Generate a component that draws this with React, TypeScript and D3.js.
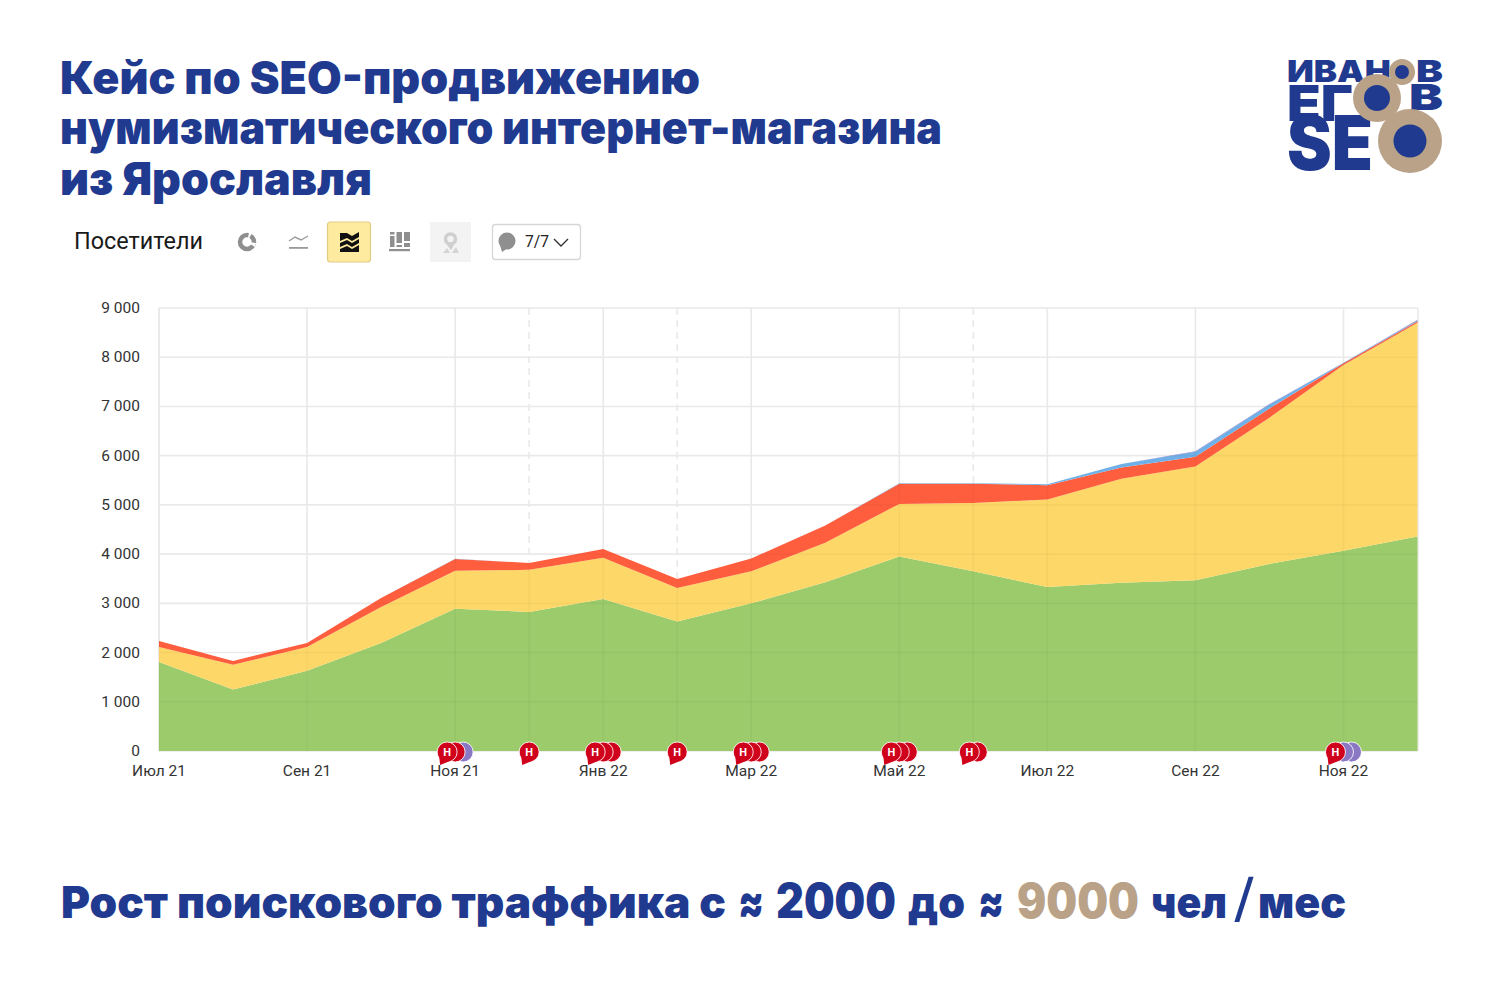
import React from "react";
import * as d3 from "d3";

const months = ["Июл 21","Авг 21","Сен 21","Окт 21","Ноя 21","Дек 21","Янв 22","Фев 22","Мар 22","Апр 22","Май 22","Июн 22","Июл 22","Авг 22","Сен 22","Окт 22","Ноя 22","Дек 22"];
const seriesSearch = [1810,1250,1630,2195,2890,2825,3090,2630,3000,3430,3950,3650,3330,3420,3470,3800,4070,4360];
const seriesDirect = [305,500,485,730,770,855,835,680,650,800,1070,1390,1780,2110,2310,2970,3770,4340];
const seriesLinks = [120,80,80,185,240,140,180,185,260,350,410,390,290,230,200,190,40,30];
const seriesSocial = [0,0,0,0,5,0,0,0,0,0,10,10,20,70,100,80,10,20];
const seriesOther = [0,0,0,0,0,0,0,0,0,0,0,0,0,0,10,10,0,10];
const seriesKeys = ["search","direct","links","social","other"];
const seriesColors = ["#9bcb6b","#fdd868","#ff5e3e","#6fb0e8","#8a78c4"];
const yTicks = [0,1000,2000,3000,4000,5000,6000,7000,8000,9000];
const solidMonths = [0,2,4,6,8,10,12,14,16];
const dashedMonths = [5,7,11];
const flagGroups: [number, string[]][] = [
  [4,["#d0021b","#d0021b","#8a78c4"]],
  [5,["#d0021b"]],
  [6,["#d0021b","#d0021b","#d0021b"]],
  [7,["#d0021b"]],
  [8,["#d0021b","#d0021b","#d0021b"]],
  [10,["#d0021b","#d0021b","#d0021b"]],
  [11,["#d0021b","#d0021b"]],
  [16,["#d0021b","#8a78c4","#8a78c4"]],
];
const titleLines = ["Кейс по SEO-продвижению","нумизматического интернет-магазина","из Ярославля"];
const titleWidths = [640, 882, 312];
const footerParts: [string, number, number, number, number, boolean][] = [
  ["Рост поискового траффика с", 61, 665, 44, 918, false],
  ["≈", 738, 26, 50, 920, false],
  ["2000", 776, 120, 48, 918, false],
  ["до", 908, 57, 44, 918, false],
  ["≈", 978, 26, 50, 920, false],
  ["9000", 1017, 122, 48, 918, true],
  ["чел", 1151, 76, 44, 918, false],
  ["мес", 1258, 88, 44, 918, false],
];

const NAVY = "#1f3a8f";
const TAN = "#b9a288";
const HEAD = "Inter, 'Noto Sans', sans-serif";
const UI = "Roboto, 'Noto Sans', sans-serif";

export default function App() {
  const x = d3.scaleLinear().domain([0, months.length - 1]).range([159, 1417.5]);
  const y = d3.scaleLinear().domain([0, 9000]).range([751, 308]);
  const rows = months.map((m, i) => ({
    search: seriesSearch[i], direct: seriesDirect[i], links: seriesLinks[i], social: seriesSocial[i], other: seriesOther[i], i,
  }));
  const stacked = d3.stack<any>().keys(seriesKeys)(rows);
  const area = d3.area<any>().x(d => x(d.data.i)).y0(d => y(d[0])).y1(d => y(d[1]));
  const topShape = d3.area<any>().x(d => x(d.data.i)).y0(y(0)).y1(d => y(d[1]))(stacked[stacked.length - 1]) as string;

  const tail = (cx: number, cy: number) => `M${cx - 8} ${cy + 4} L${cx - 7} ${cy + 13} L${cx + 3} ${cy + 9} Z`;

  return (
    <svg width={1500} height={1000} style={{ position: "absolute", left: 0, top: 0, background: "#fff" }}>
      <defs>
        <clipPath id="areaClip"><path d={topShape} /></clipPath>
      </defs>

      {/* Title */}
      {titleLines.map((t, i) => (
        <text key={i} x={60} y={94 + i * 50.3} fontFamily={HEAD} fontWeight={900} fontSize={45} fill={NAVY}
          textLength={titleWidths[i]} lengthAdjust="spacingAndGlyphs">{t}</text>
      ))}

      {/* Logo */}
      <g fontFamily={HEAD} fontWeight={900} fill={NAVY}>
        <text x={1287} y={82} fontSize={30} textLength={104} lengthAdjust="spacingAndGlyphs">ИВАН</text>
        <text x={1416} y={82} fontSize={30} textLength={27} lengthAdjust="spacingAndGlyphs">В</text>
        <text x={1287} y={121} fontSize={50} textLength={66} lengthAdjust="spacingAndGlyphs">ЕГ</text>
        <text x={1409} y={110} fontSize={36} textLength={34} lengthAdjust="spacingAndGlyphs">В</text>
        <text x={1287} y={170} fontSize={76} textLength={86} lengthAdjust="spacingAndGlyphs">SE</text>
      </g>
      {[[1402,72,13,7],[1377,98,24,13],[1410,141,32,16.5]].map(([cx,cy,R,r],i) => (
        <g key={i}>
          <circle cx={cx} cy={cy} r={R} fill={TAN} />
          <circle cx={cx} cy={cy} r={r} fill={NAVY} />
        </g>
      ))}

      {/* Toolbar */}
      <text x={74} y={249} fontFamily={UI} fontSize={23} fill="#1a1a1a" textLength={129} lengthAdjust="spacingAndGlyphs">Посетители</text>
      <g>
        <circle cx={247} cy={242} r={7} fill="none" stroke="#8f8f8f" strokeWidth={4.5} />
        <path d="M247 242 L249 233 L252 233 Z M247 242 L256 243 L255 247 Z" fill="#fff" />
        <path d="M289 241 L295 237 L301 240 L308 236" fill="none" stroke="#9a9a9a" strokeWidth={1.4} />
        <rect x={289} y={247} width={19} height={1.8} fill="#9a9a9a" />
        <rect x={327.5} y={222} width={43} height={40} rx={3} fill="#ffeba0" stroke="#e0cb82" strokeWidth={1.2} />
        <path d="M340 233 L340 241 L347 238 L352 241 L359 237 L359 232 L352 236 L347 233 Z" fill="#111" />
        <path d="M340 243 L347 240 L352 243 L359 239 L359 243 L352 247 L347 244 L340 247 Z" fill="#111" />
        <path d="M340 249 L347 246 L352 249 L359 245 L359 252 L340 252 Z" fill="#111" />
        <g fill="#8f8f8f">
          <rect x={390} y={236} width={4.5} height={11} />
          <rect x={390} y={232} width={4.5} height={2.5} />
          <rect x={396.5} y={232} width={5.5} height={11} />
          <rect x={396.5} y={245} width={5.5} height={2} />
          <rect x={404} y={232} width={6} height={9} />
          <rect x={404} y={243} width={6} height={4} />
          <rect x={389} y={249} width={21} height={2.2} />
        </g>
        <rect x={430} y={222} width={41} height={40} fill="#f3f3f3" />
        <circle cx={450.5} cy={239} r={5} fill="none" stroke="#cfcfcf" strokeWidth={3.5} />
        <path d="M447 245 L451 250 L454 245 Z" fill="#cfcfcf" />
        <path d="M443 253 L447 248 L450 253 Z M452 253 L456 247 L459 253 Z" fill="#d4d4d4" />
        <rect x={492.5} y={224.5} width={88} height={35} rx={3} fill="#fff" stroke="#d6d6d6" strokeWidth={1.3} />
        <circle cx={507} cy={241} r={8.5} fill="#8f8f8f" />
        <path d="M500 245 L502 252 L508 248 Z" fill="#8f8f8f" />
        <text x={525} y={247} fontFamily={UI} fontSize={17} fill="#222" textLength={24} lengthAdjust="spacingAndGlyphs">7/7</text>
        <path d="M554 239 L561 246 L568 239" fill="none" stroke="#333" strokeWidth={1.4} />
      </g>

      {/* Plot frame + grid beneath */}
      <g stroke="#e9e9e9" strokeWidth={1.6}>
        {yTicks.map(t => <line key={t} x1={159} x2={1418} y1={y(t)} y2={y(t)} />)}
        <line x1={159} x2={159} y1={308} y2={751} />
        <line x1={1418} x2={1418} y1={308} y2={751} />
        {solidMonths.map(m => <line key={m} x1={x(m)} x2={x(m)} y1={308} y2={751} />)}
        {dashedMonths.map(m => <line key={m} x1={x(m)} x2={x(m)} y1={308} y2={751} strokeDasharray="7 5" />)}
      </g>

      {/* Areas */}
      {stacked.map((s, i) => (
        <path key={s.key} d={area(s) as string} fill={seriesColors[i]} />
      ))}

      {/* Grid showing through the areas */}
      <g stroke="#000" strokeOpacity={0.03} strokeWidth={1.6} clipPath="url(#areaClip)">
        {yTicks.slice(1).map(t => <line key={t} x1={159} x2={1418} y1={y(t)} y2={y(t)} />)}
        {solidMonths.map(m => <line key={m} x1={x(m)} x2={x(m)} y1={308} y2={751} />)}
        {dashedMonths.map(m => <line key={m} x1={x(m)} x2={x(m)} y1={308} y2={751} />)}
      </g>

      {/* Axis labels */}
      <g fontFamily={UI} fontSize={15.5} fill="#333">
        {yTicks.map(t => (
          <text key={t} x={140} y={y(t) + 5} textAnchor="end">{t === 0 ? "0" : d3.format(",")(t).replace(",", " ")}</text>
        ))}
        {solidMonths.map(m => (
          <text key={m} x={x(m)} y={775.5} textAnchor="middle">{months[m]}</text>
        ))}
      </g>

      {/* Annotation flags */}
      {flagGroups.map(([m, cols]) => {
        const n = cols.length;
        const start = x(m) - (n - 1) * 4;
        return (
          <g key={m}>
            {cols.map((c, j) => ({ c, j })).reverse().map(({ c, j }) => {
              const cx = start + j * 8;
              const cy = 752;
              return (
                <g key={j}>
                  <circle cx={cx} cy={cy} r={10} fill={c} stroke="#fff" strokeOpacity={0.85} strokeWidth={1} />
                  {j === 0 && <path d={tail(cx, cy)} fill={c} />}
                  {j === 0 && (
                    <text x={cx} y={cy + 4} textAnchor="middle" fontFamily={UI} fontWeight={700} fontSize={11} fill="#fff">Н</text>
                  )}
                </g>
              );
            })}
          </g>
        );
      })}

      {/* Bottom line */}
      {footerParts.map(([t, px, w, fs, by, tan], i) => (
        <text key={i} x={px} y={by} fontFamily={HEAD} fontWeight={900} fontSize={fs} fill={tan ? TAN : NAVY}
          textLength={w} lengthAdjust="spacingAndGlyphs">{t}</text>
      ))}
      <text x={1244} y={916} textAnchor="middle" fontFamily={HEAD} fontWeight={400} fontSize={52} fill={NAVY}
        textLength={22} lengthAdjust="spacingAndGlyphs">/</text>
    </svg>
  );
}
